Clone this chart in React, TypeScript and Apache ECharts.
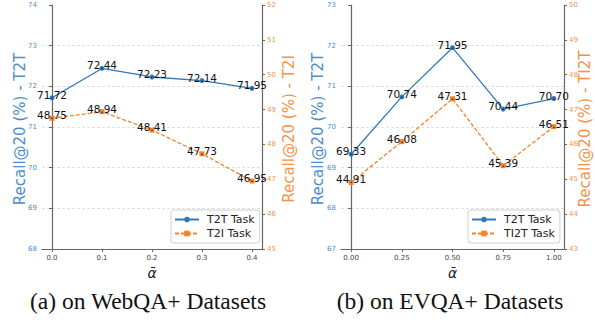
import React, { useEffect, useRef } from "react";
import * as echarts from "echarts";

const alphaA = [0, 0.1, 0.2, 0.3, 0.4];
const t2tA = [71.72, 72.44, 72.23, 72.14, 71.95];
const t2iA = [48.75, 48.94, 48.41, 47.73, 46.95];

const alphaB = [0, 0.25, 0.5, 0.75, 1.0];
const t2tB = [69.33, 70.74, 71.95, 70.44, 70.7];
const ti2tB = [44.91, 46.08, 47.31, 45.39, 46.51];

const ticksA = [0, 0.1, 0.2, 0.3, 0.4];
const ticksB = [0, 0.25, 0.5, 0.75, 1.0];

const BLUE = "#2f78bb";
const ORANGE = "#f7822a";
const BLUE_T = "#4f8ccb";
const ORANGE_T = "#f5924a";
const SPINE = "#666";

export default function App() {
  const ref = useRef<HTMLDivElement>(null);
  useEffect(() => {
    if (!ref.current) return;
    const chart = echarts.init(ref.current, null, { renderer: "svg" });

    const xAxisBase = (gridIndex: number, min: number, max: number, ticks: number[], dec: number) => ({
      type: "value",
      gridIndex,
      min,
      max,
      name: "ᾱ",
      nameLocation: "middle",
      nameGap: 12,
      nameTextStyle: { fontSize: 14, fontStyle: "italic", fontFamily: "DejaVu Sans", color: "#222", verticalAlign: "top" },
      axisLine: { show: true, lineStyle: { color: SPINE, width: 1.2 } },
      axisTick: { show: true, customValues: ticks, length: 3, lineStyle: { color: SPINE } },
      axisLabel: {
        customValues: ticks,
        fontSize: 7,
        color: "#444",
        margin: 5,
        fontFamily: "DejaVu Sans",
        formatter: (v: number) => v.toFixed(dec),
      },
      splitLine: { show: false },
    });

    const yAxisBase = (gridIndex: number, min: number, max: number, pos: string, color: string, grid: boolean) => ({
      type: "value",
      gridIndex,
      min,
      max,
      interval: 1,
      position: pos,
      axisLine: { show: true, lineStyle: { color: SPINE, width: 1.2 } },
      axisTick: { show: true, length: 3, lineStyle: { color: SPINE } },
      axisLabel: { fontSize: 7, color, margin: 5, fontFamily: "DejaVu Sans" },
      splitLine: {
        show: grid,
        showMinLine: false,
        showMaxLine: false,
        lineStyle: { color: "#d8d8d8", type: [3, 2], width: 0.8 },
      },
    });

    const lbl = {
      show: true,
      position: "inside",
      offset: [0, -3],
      fontSize: 10.5,
      color: "#111",
      fontFamily: "DejaVu Sans",
      formatter: (p: any) => p.value[1].toFixed(2),
    };

    const mk = (
      name: string,
      xs: number[],
      ys: number[],
      xi: number,
      yi: number,
      color: string,
      dashed: boolean
    ) => ({
      type: "line",
      name,
      xAxisIndex: xi,
      yAxisIndex: yi,
      data: xs.map((x, i) => [x, ys[i]]),
      symbol: dashed ? "rect" : "circle",
      symbolSize: 5,
      lineStyle: { color, width: 1.3, type: dashed ? [4, 2] : "solid" },
      itemStyle: { color },
      label: lbl,
      z: 3,
    });

    const legendBase = (left: number, data: string[]) => ({
      left,
      top: 210,
      orient: "vertical",
      itemWidth: 24,
      itemHeight: 7,
      itemGap: 3,
      padding: [4, 5, 4, 3],
      borderColor: "#d0d0d0",
      borderWidth: 1,
      borderRadius: 3,
      backgroundColor: "#fff",
      textStyle: { fontSize: 11, color: "#222", fontFamily: "DejaVu Sans", padding: [0, 0, 0, 3] },
      data,
    });

    const axisTitle = (x: number, y: number, text: string, color: string) => ({
      type: "text",
      x,
      y,
      rotation: Math.PI / 2,
      style: {
        text,
        fill: color,
        fontSize: 15,
        fontFamily: "DejaVu Sans",
        textAlign: "center",
        textVerticalAlign: "middle",
      },
    });

    const caption = (x: number, text: string) => ({
      type: "text",
      x,
      y: 301,
      style: {
        text,
        fill: "#111",
        fontSize: 23.5,
        fontFamily: "Liberation Serif",
        textAlign: "center",
        textVerticalAlign: "middle",
      },
    });

    chart.setOption({
      animation: false,
      backgroundColor: "#fff",
      grid: [
        { left: 42, top: 5, width: 220, height: 244 },
        { left: 341, top: 5, width: 223, height: 244 },
      ],
      xAxis: [xAxisBase(0, -0.02, 0.42, ticksA, 1), xAxisBase(1, -0.05, 1.05, ticksB, 2)],
      yAxis: [
        yAxisBase(0, 68, 74, "left", BLUE_T, true),
        yAxisBase(0, 45, 52, "right", ORANGE_T, false),
        yAxisBase(1, 67, 73, "left", BLUE_T, true),
        yAxisBase(1, 43, 50, "right", ORANGE_T, false),
      ],
      legend: [
        legendBase(171, ["T2T Task", "T2I Task"]),
        legendBase(468, ["T2T Task", "TI2T Task"]),
      ],
      series: [
        mk("T2T Task", alphaA, t2tA, 0, 0, BLUE, false),
        mk("T2I Task", alphaA, t2iA, 0, 1, ORANGE, true),
        mk("T2T Task", alphaB, t2tB, 1, 2, BLUE, false),
        mk("TI2T Task", alphaB, ti2tB, 1, 3, ORANGE, true),
      ],
      graphic: [
        axisTitle(20, 129, "Recall@20 (%) - T2T", BLUE_T),
        axisTitle(289, 129, "Recall@20 (%) - T2I", ORANGE_T),
        axisTitle(318, 129, "Recall@20 (%) - T2T", BLUE_T),
        axisTitle(585, 129, "Recall@20 (%) - TI2T", ORANGE_T),
        caption(148, "(a) on WebQA+ Datasets"),
        caption(450, "(b) on EVQA+ Datasets"),
      ],
    });
    return () => chart.dispose();
  }, []);
  return (
    <div
      ref={ref}
      style={{ position: "fixed", left: 0, top: 0, width: 595, height: 320, background: "#fff" }}
    />
  );
}
